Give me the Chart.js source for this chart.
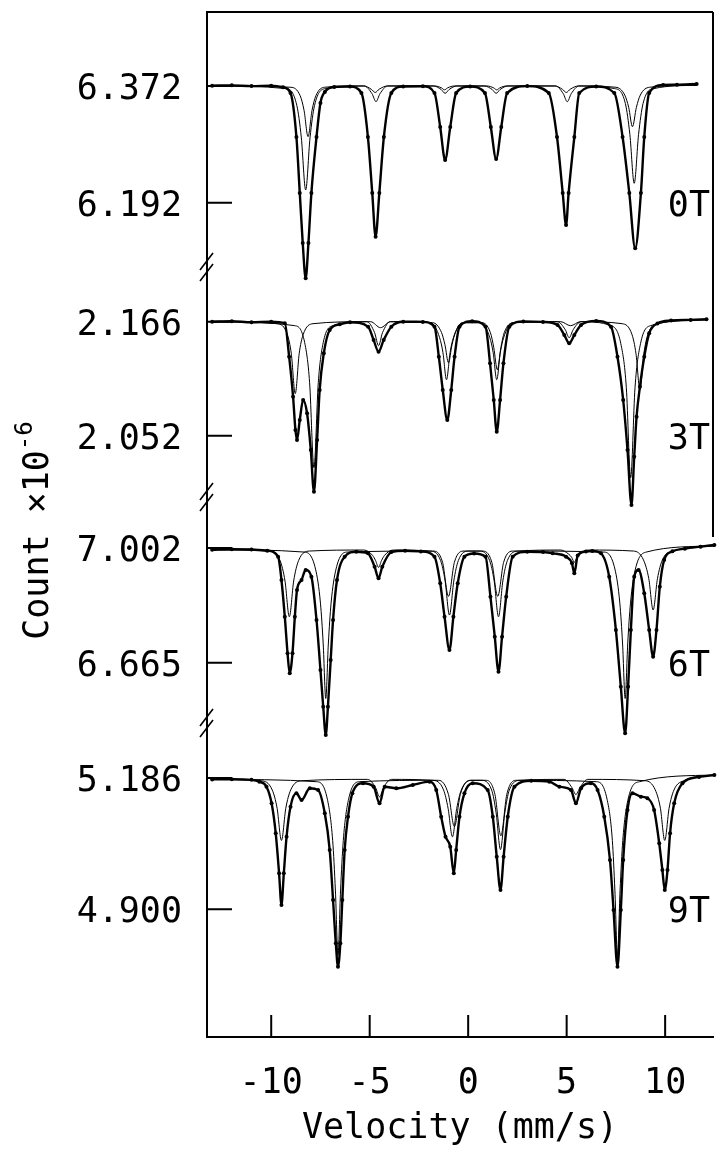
<!DOCTYPE html>
<html>
<head>
<meta charset="utf-8">
<script src="https://cdn.jsdelivr.net/npm/chart.js@4.4.1/dist/chart.umd.min.js"></script>
<style>
  html, body { margin: 0; background: #fff; }
  #wrap { width: 717px; height: 1156px; }
</style>
</head>
<body>
<div id="wrap"><canvas id="spectra"></canvas></div>
<script>
// panel names and the two labelled ticks of each panel (lower, upper)
const fieldLabels = ['0T', '3T', '6T', '9T'];
const countTicks = [[6.192, 6.372], [2.052, 2.166], [6.665, 7.002], [4.900, 5.186]];
const velocityTicks = [-10, -5, 0, 5, 10];

// 0T: measured envelope and two sub-spectra
const vel0T = [-13.0, -12.0, -11.0, -10.0, -9.4, -9.02, -8.72, -8.55, -8.40, -8.25, -8.11, -7.96, -7.70, -7.50, -7.28, -6.8, -6.0, -5.42, -5.09, -4.87, -4.70, -4.51, -4.28, -3.90, -3.3, -2.3, -1.71, -1.42, -1.17, -0.91, -0.61, 0.1, 0.85, 1.15, 1.42, 1.68, 1.98, 3.0, 4.09, 4.51, 4.80, 4.97, 5.10, 5.39, 5.64, 6.5, 7.42, 7.84, 8.18, 8.48, 8.77, 8.94, 9.19, 9.9, 10.6, 11.6];
const count0T = [6.3725, 6.3730, 6.3718, 6.3725, 6.3700, 6.3612, 6.2933, 6.2071, 6.1299, 6.0754, 6.1299, 6.2071, 6.2933, 6.3458, 6.3627, 6.3705, 6.3712, 6.3612, 6.2933, 6.2071, 6.1395, 6.2071, 6.2933, 6.3612, 6.3712, 6.3715, 6.3612, 6.3088, 6.2579, 6.3088, 6.3612, 6.3712, 6.3612, 6.3088, 6.2594, 6.3088, 6.3612, 6.3718, 6.3612, 6.2933, 6.2071, 6.1576, 6.2071, 6.2933, 6.3612, 6.3712, 6.3612, 6.2933, 6.2071, 6.1216, 6.2071, 6.2933, 6.3612, 6.3735, 6.3740, 6.3751];
const vel0Ta = [-13.0, -9.25, -8.70, -8.47, -8.25, -8.03, -7.80, -7.25, -5.28, -4.88, -4.68, -4.48, -4.08, -1.77, -1.37, -1.17, -0.97, -0.57, 0.82, 1.22, 1.42, 1.62, 2.02, 4.43, 4.83, 5.03, 5.23, 5.63, 7.43, 7.98, 8.21, 8.43, 8.65, 8.88, 9.43, 11.6];
const count0Ta = [6.372, 6.368, 6.342, 6.292, 6.2116, 6.292, 6.342, 6.368, 6.372, 6.360, 6.3478, 6.360, 6.372, 6.372, 6.3665, 6.3607, 6.3665, 6.372, 6.372, 6.3665, 6.3607, 6.3665, 6.372, 6.372, 6.360, 6.3478, 6.360, 6.372, 6.368, 6.345, 6.297, 6.2219, 6.297, 6.345, 6.368, 6.373];
const vel0Tb = [-13.0, -9.0, -8.53, -8.33, -8.13, -7.93, -7.73, -7.3, -5.3, -4.92, -4.72, -4.52, -4.1, -1.7, -1.35, -1.2, -1.05, -0.7, 0.95, 1.30, 1.45, 1.60, 1.95, 4.4, 4.78, 4.98, 5.18, 5.6, 7.5, 7.95, 8.15, 8.34, 8.54, 8.74, 9.2, 11.6];
const count0Tb = [6.372, 6.370, 6.357, 6.334, 6.2938, 6.334, 6.357, 6.370, 6.372, 6.367, 6.362, 6.367, 6.372, 6.372, 6.369, 6.366, 6.369, 6.372, 6.372, 6.369, 6.366, 6.369, 6.372, 6.372, 6.367, 6.362, 6.367, 6.372, 6.370, 6.358, 6.339, 6.3092, 6.339, 6.358, 6.370, 6.373];

// 3T
const vel3T = [-13.0, -12.0, -11.0, -10.0, -9.31, -9.09, -8.89, -8.77, -8.69, -8.55, -8.38, -8.18, -7.99, -7.83, -7.67, -7.54, -7.33, -7.03, -6.52, -6.0, -5.08, -4.80, -4.55, -4.29, -3.90, -3.3, -2.3, -1.71, -1.49, -1.29, -1.06, -0.86, -0.69, -0.44, 0.2, 0.88, 1.11, 1.30, 1.45, 1.62, 1.79, 2.09, 2.8, 3.8, 4.54, 4.88, 5.13, 5.39, 5.73, 6.5, 7.25, 7.58, 7.87, 8.09, 8.29, 8.43, 8.55, 8.72, 8.94, 9.19, 9.61, 10.3, 11.3, 12.1];
const count3T = [2.1660, 2.1665, 2.1655, 2.1660, 2.1644, 2.1310, 2.0910, 2.0577, 2.0477, 2.0677, 2.0877, 2.0744, 2.0377, 1.9960, 2.0477, 2.0977, 2.1344, 2.1577, 2.1634, 2.1655, 2.1610, 2.1477, 2.1360, 2.1477, 2.1610, 2.1660, 2.1658, 2.1610, 2.1310, 2.0977, 2.0677, 2.0977, 2.1310, 2.1610, 2.1665, 2.1610, 2.1244, 2.0877, 2.0560, 2.0877, 2.1244, 2.1610, 2.1662, 2.1658, 2.1627, 2.1527, 2.1444, 2.1527, 2.1627, 2.1668, 2.1610, 2.1310, 2.0877, 2.0377, 1.9827, 2.0310, 2.0710, 2.1010, 2.1310, 2.1544, 2.1643, 2.1672, 2.1678, 2.1684];
const vel3Ta = [-13.0, -9.68, -9.18, -8.98, -8.78, -8.58, -8.38, -7.88, -5.15, -4.75, -4.55, -4.35, -3.95, -1.9, -1.45, -1.28, -1.10, -0.92, -0.75, -0.3, 0.65, 1.10, 1.27, 1.45, 1.63, 1.80, 2.25, 4.53, 4.93, 5.13, 5.33, 5.73, 7.82, 8.32, 8.52, 8.72, 8.92, 9.12, 9.62, 12.1];
const count3Ta = [2.166, 2.164, 2.153, 2.134, 2.094, 2.134, 2.153, 2.164, 2.166, 2.155, 2.142, 2.155, 2.166, 2.165, 2.150, 2.135, 2.108, 2.135, 2.150, 2.165, 2.165, 2.150, 2.135, 2.108, 2.135, 2.150, 2.165, 2.166, 2.158, 2.150, 2.158, 2.166, 2.164, 2.153, 2.134, 2.098, 2.134, 2.153, 2.164, 2.168];
const vel3Tb = [-13.0, -8.8, -8.3, -8.05, -7.83, -7.61, -7.36, -6.86, -4.95, -4.45, -3.95, -1.8, -1.35, -1.18, -1.0, -0.82, -0.65, -0.2, 0.7, 1.13, 1.30, 1.48, 1.66, 1.83, 2.3, 4.7, 5.2, 5.7, 7.25, 7.75, 8.03, 8.25, 8.47, 8.75, 9.25, 12.1];
const count3Tb = [2.166, 2.162, 2.145, 2.105, 2.020, 2.105, 2.145, 2.162, 2.166, 2.160, 2.166, 2.165, 2.155, 2.143, 2.125, 2.143, 2.155, 2.165, 2.165, 2.155, 2.140, 2.118, 2.140, 2.155, 2.165, 2.166, 2.162, 2.166, 2.162, 2.144, 2.100, 2.010, 2.100, 2.144, 2.162, 2.168];

// 6T
const vel6T = [-13.0, -12.0, -11.0, -10.2, -9.65, -9.48, -9.31, -9.17, -9.06, -8.92, -8.80, -8.69, -8.46, -8.25, -7.96, -7.70, -7.50, -7.36, -7.23, -7.12, -6.98, -6.86, -6.66, -6.27, -5.68, -5.09, -4.75, -4.55, -4.36, -3.90, -3.2, -2.4, -1.71, -1.42, -1.20, -0.95, -0.75, -0.53, -0.19, 0.3, 0.88, 1.13, 1.35, 1.54, 1.72, 1.93, 2.26, 3.0, 3.8, 4.29, 4.97, 5.27, 5.39, 5.56, 5.98, 6.3, 6.74, 7.16, 7.50, 7.75, 7.97, 8.12, 8.26, 8.43, 8.65, 8.94, 9.19, 9.39, 9.56, 9.73, 9.95, 10.37, 11.0, 11.8, 12.5];
const count6T = [6.9970, 6.9985, 6.9975, 6.9940, 6.9765, 6.9080, 6.8002, 6.6927, 6.6339, 6.6927, 6.8002, 6.8786, 6.9080, 6.9374, 6.9177, 6.7905, 6.6436, 6.5358, 6.4526, 6.5358, 6.6730, 6.7905, 6.9080, 6.9765, 6.9911, 6.9863, 6.9471, 6.9130, 6.9471, 6.9900, 6.9940, 6.9920, 6.9765, 6.8983, 6.8002, 6.7024, 6.8002, 6.8983, 6.9765, 6.9860, 6.9765, 6.8590, 6.7414, 6.6386, 6.7414, 6.8590, 6.9765, 6.9910, 6.9900, 6.9864, 6.9765, 6.9569, 6.9277, 6.9798, 6.9920, 6.9930, 6.9863, 6.9177, 6.7610, 6.5946, 6.4576, 6.5946, 6.7610, 6.9177, 6.9373, 6.8689, 6.7610, 6.6827, 6.7610, 6.8883, 6.9667, 6.9922, 7.0000, 7.0060, 7.0108];
const vel6Ta = [-13.0, -10.1, -9.55, -9.30, -9.08, -8.86, -8.61, -8.06, -5.3, -4.85, -4.70, -4.55, -4.40, -4.25, -3.8, -1.95, -1.40, -1.17, -0.95, -0.73, -0.50, 0.05, 0.55, 1.09, 1.32, 1.54, 1.76, 1.99, 2.55, 4.7, 5.1, 5.25, 5.39, 5.53, 5.68, 6.1, 8.4, 8.9, 9.17, 9.39, 9.61, 9.86, 10.4, 12.5];
const count6Ta = [6.997, 6.993, 6.965, 6.905, 6.800, 6.905, 6.965, 6.993, 6.996, 6.980, 6.965, 6.945, 6.965, 6.980, 6.996, 6.993, 6.965, 6.905, 6.805, 6.905, 6.965, 6.993, 6.993, 6.965, 6.905, 6.800, 6.905, 6.965, 6.993, 6.996, 6.984, 6.975, 6.960, 6.975, 6.984, 6.996, 6.993, 6.967, 6.912, 6.820, 6.912, 6.967, 6.993, 7.008];
const vel6Tb = [-13.0, -8.3, -7.75, -7.50, -7.36, -7.23, -7.10, -6.96, -6.71, -6.16, -1.8, -1.3, -1.0, -0.7, -0.2, 0.7, 1.2, 1.5, 1.8, 2.3, 6.9, 7.45, 7.70, 7.84, 7.97, 8.10, 8.24, 8.49, 9.04, 12.5];
const count6Tb = [6.997, 6.990, 6.940, 6.840, 6.720, 6.560, 6.720, 6.840, 6.940, 6.990, 6.993, 6.960, 6.860, 6.960, 6.993, 6.993, 6.960, 6.860, 6.960, 6.993, 6.990, 6.940, 6.840, 6.720, 6.560, 6.720, 6.840, 6.940, 6.990, 7.008];

// 9T
const vel9T = [-13.0, -12.0, -11.0, -10.6, -10.24, -9.98, -9.77, -9.60, -9.48, -9.36, -9.22, -9.02, -8.72, -8.46, -8.04, -7.62, -7.28, -7.03, -6.86, -6.72, -6.61, -6.49, -6.39, -6.27, -6.10, -5.88, -5.34, -4.80, -4.50, -4.24, -3.65, -2.81, -1.96, -1.62, -1.37, -1.15, -0.91, -0.73, -0.61, -0.44, -0.19, 0.23, 0.99, 1.25, 1.45, 1.64, 1.80, 2.01, 2.35, 3.2, 4.12, 4.63, 5.22, 5.47, 5.73, 6.23, 6.57, 6.91, 7.20, 7.38, 7.58, 7.75, 7.87, 8.09, 8.34, 8.77, 9.10, 9.44, 9.70, 9.86, 9.98, 10.12, 10.25, 10.46, 10.88, 11.72, 12.5];
const count9T = [5.1830, 5.1832, 5.1820, 5.1780, 5.1671, 5.1309, 5.0655, 4.9784, 4.9094, 4.9784, 5.0582, 5.1235, 5.1527, 5.1381, 5.1636, 5.1599, 5.1091, 5.0292, 4.9203, 4.8260, 4.7750, 4.8260, 4.9203, 5.0292, 5.1017, 5.1527, 5.1745, 5.1671, 5.1309, 5.1671, 5.1636, 5.1708, 5.1781, 5.1599, 5.1017, 5.0582, 5.0364, 4.9784, 5.0292, 5.1017, 5.1527, 5.1745, 5.1599, 5.1017, 5.0146, 4.9420, 5.0146, 5.1017, 5.1671, 5.1800, 5.1781, 5.1671, 5.1599, 5.1309, 5.1636, 5.1745, 5.1599, 5.1017, 5.0074, 4.8985, 4.7750, 4.8985, 5.0074, 5.1163, 5.1527, 5.1454, 5.1420, 5.1163, 5.0437, 4.9856, 4.9420, 4.9856, 5.0655, 5.1309, 5.1745, 5.1883, 5.1925];
const vel9Ta = [-13.0, -10.5, -9.95, -9.70, -9.48, -9.26, -9.01, -8.46, -5.1, -4.7, -4.5, -4.3, -3.9, -1.8, -1.25, -1.02, -0.80, -0.58, -0.35, 0.2, 0.64, 1.19, 1.42, 1.64, 1.86, 2.09, 2.64, 4.87, 5.27, 5.47, 5.67, 6.07, 9.0, 9.5, 9.76, 9.98, 10.20, 10.45, 11.0, 12.5];
const count9Ta = [5.183, 5.180, 5.160, 5.120, 5.050, 5.120, 5.160, 5.180, 5.183, 5.165, 5.145, 5.165, 5.183, 5.181, 5.160, 5.120, 5.058, 5.120, 5.160, 5.181, 5.181, 5.160, 5.110, 5.030, 5.110, 5.160, 5.181, 5.183, 5.165, 5.150, 5.165, 5.183, 5.180, 5.160, 5.120, 5.050, 5.120, 5.160, 5.181, 5.1925];
const vel9Tb = [-13.0, -7.7, -7.15, -6.88, -6.74, -6.61, -6.48, -6.34, -6.07, -5.5, -1.5, -1.0, -0.70, -0.40, 0.1, 0.9, 1.36, 1.66, 1.96, 2.45, 6.5, 7.05, 7.32, 7.45, 7.58, 7.71, 7.85, 8.12, 8.7, 12.5];
const count9Tb = [5.183, 5.178, 5.140, 5.050, 4.940, 4.800, 4.940, 5.050, 5.140, 5.178, 5.181, 5.150, 5.080, 5.150, 5.181, 5.181, 5.150, 5.060, 5.150, 5.181, 5.178, 5.140, 5.050, 4.940, 4.800, 4.940, 5.050, 5.140, 5.178, 5.1925];

const panels = [
  { fit: [vel0T, count0T], subs: [[vel0Ta, count0Ta], [vel0Tb, count0Tb]], range: [6.0928, 6.4861], share: 255 },
  { fit: [vel3T, count3T], subs: [[vel3Ta, count3Ta], [vel3Tb, count3Tb]], range: [1.9907, 2.2207], share: 230 },
  { fit: [vel6T, count6T], subs: [[vel6Ta, count6Ta], [vel6Tb, count6Tb]], range: [6.4879, 7.1518], share: 226 },
  { fit: [vel9T, count9T], subs: [[vel9Ta, count9Ta], [vel9Tb, count9Tb]], range: [4.6219, 5.3058], share: 314 }
];

const FONT = { family: 'DejaVu Sans Mono', size: 35 };
const INK = '#000';

function points(v, c) {
  return v.map((x, i) => ({ x: x, y: c[i] }));
}

const datasets = [];
panels.forEach((p, i) => {
  datasets.push({
    data: points(p.fit[0], p.fit[1]),
    yAxisID: 'y' + i,
    borderColor: INK,
    borderWidth: 2.4,
    pointRadius: 2,
    pointBackgroundColor: INK,
    pointBorderWidth: 0,
    cubicInterpolationMode: 'monotone',
    clip: false
  });
});
panels.forEach((p, i) => {
  p.subs.forEach(s => {
    datasets.push({
      data: points(s[0], s[1]),
      yAxisID: 'y' + i,
      borderColor: INK,
      borderWidth: 1,
      pointRadius: 0,
      cubicInterpolationMode: 'monotone',
      clip: false
    });
  });
});

const scales = {
  x: {
    type: 'linear',
    min: -13.26,
    max: 12.43,
    afterBuildTicks: s => { s.ticks = velocityTicks.map(v => ({ value: v })); },
    afterFit: s => { s.height = 119; s.paddingLeft = 0; s.paddingRight = 0; },
    grid: { display: true, drawOnChartArea: false, drawTicks: false },
    border: { display: true, color: INK, width: 2 },
    ticks: { font: FONT, color: INK, padding: 26, maxRotation: 0, autoSkip: false },
    title: { display: true, text: 'Velocity (mm/s)', font: FONT, color: INK, padding: { top: 0, bottom: 6 } }
  }
};
panels.forEach((p, i) => {
  scales['y' + i] = {
    type: 'linear',
    position: 'left',
    stack: 'spectra',
    stackWeight: p.share,
    weight: 4 - i,
    min: p.range[0],
    max: p.range[1],
    afterBuildTicks: s => { s.ticks = countTicks[i].map(v => ({ value: v })); },
    afterFit: s => { s.width = 207; s.paddingTop = 0; s.paddingBottom = 0; },
    grid: { display: true, drawOnChartArea: false, drawTicks: false },
    border: { display: true, color: INK, width: 2 },
    ticks: {
      font: FONT, color: INK, padding: 25, labelOffset: 4,
      callback: v => Number(v).toFixed(3)
    }
  };
});

// inward ticks, frame, axis breaks, field labels and the y title
const decorations = {
  id: 'decorations',
  afterDraw(chart) {
    const ctx = chart.ctx;
    const area = chart.chartArea;
    ctx.save();
    ctx.strokeStyle = INK;
    ctx.fillStyle = INK;
    ctx.lineWidth = 2;

    // frame top and right
    ctx.beginPath();
    ctx.moveTo(area.left, area.top);
    ctx.lineTo(area.right, area.top);
    ctx.moveTo(area.right, area.top);
    ctx.lineTo(area.right, chart.scales.y2.top + 40);
    ctx.stroke();

    // x ticks pointing up
    const xs = chart.scales.x;
    ctx.beginPath();
    velocityTicks.forEach(v => {
      const px = xs.getPixelForValue(v);
      ctx.moveTo(px, area.bottom);
      ctx.lineTo(px, area.bottom - 22);
    });
    ctx.stroke();

    // y ticks pointing right, panel labels
    ctx.font = FONT.size + 'px "' + FONT.family + '"';
    ctx.textAlign = 'right';
    ctx.textBaseline = 'middle';
    panels.forEach((p, i) => {
      const ys = chart.scales['y' + i];
      ctx.beginPath();
      countTicks[i].forEach(v => {
        const py = ys.getPixelForValue(v);
        ctx.moveTo(area.left, py);
        ctx.lineTo(area.left + 25, py);
      });
      ctx.stroke();
      ctx.fillText(fieldLabels[i], area.right - 3, ys.getPixelForValue(countTicks[i][0]) + 4);
    });

    // axis break marks
    ctx.lineWidth = 1.6;
    for (let i = 0; i < panels.length - 1; i++) {
      const yb = chart.scales['y' + i].bottom;
      const x = area.left;
      ctx.beginPath();
      ctx.moveTo(x - 7, yb + 3);
      ctx.lineTo(x + 6, yb - 14);
      ctx.moveTo(x - 7, yb + 14);
      ctx.lineTo(x + 6, yb - 3);
      ctx.stroke();
    }

    // y title with superscript
    const main = 'Count \u00d710';
    const sup = '-6';
    const supFont = '24px "' + FONT.family + '"';
    ctx.font = FONT.size + 'px "' + FONT.family + '"';
    const wMain = ctx.measureText(main).width;
    ctx.font = supFont;
    const wSup = ctx.measureText(sup).width;
    const total = wMain + wSup;
    ctx.translate(36, (area.top + area.bottom) / 2 + 6);
    ctx.rotate(-Math.PI / 2);
    ctx.textAlign = 'left';
    ctx.textBaseline = 'alphabetic';
    ctx.font = FONT.size + 'px "' + FONT.family + '"';
    ctx.fillText(main, -total / 2, 12);
    ctx.font = supFont;
    ctx.fillText(sup, -total / 2 + wMain, -4);
    ctx.restore();
  }
};

new Chart(document.getElementById('spectra'), {
  type: 'line',
  data: { datasets: datasets },
  options: {
    responsive: true,
    maintainAspectRatio: false,
    animation: false,
    layout: { padding: { top: 12, right: 3, left: 0, bottom: 0 } },
    plugins: { legend: { display: false }, tooltip: { enabled: false } },
    scales: scales
  },
  plugins: [decorations]
});
</script>
</body>
</html>
